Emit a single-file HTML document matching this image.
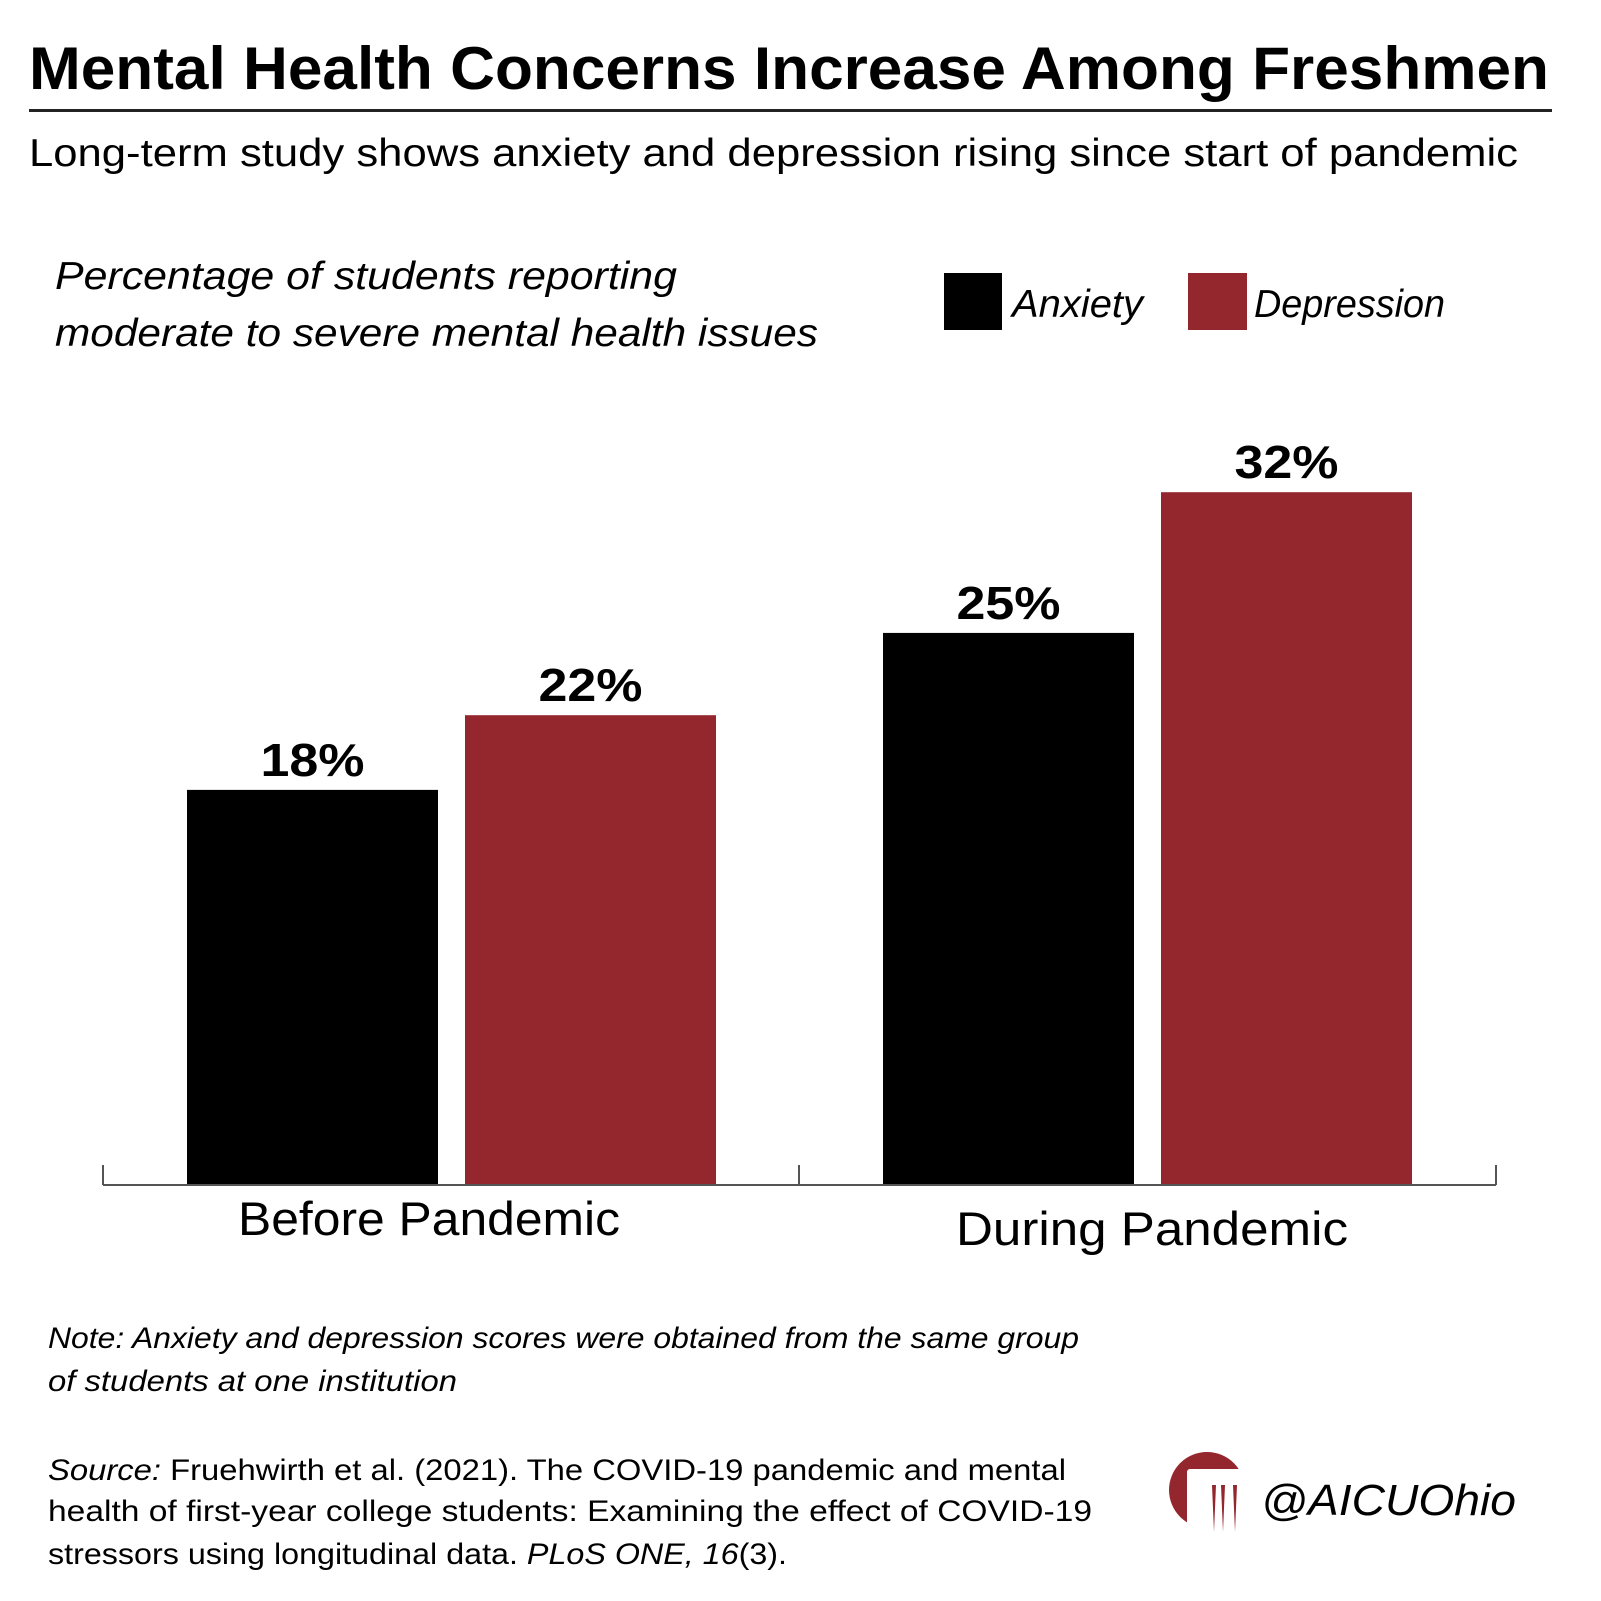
<!DOCTYPE html>
<html><head><meta charset="utf-8"><style>
html,body{margin:0;padding:0;background:#fff}
svg{display:block;font-family:"Liberation Sans",sans-serif}
</style></head><body>
<svg id="chart" width="1601" height="1601" viewBox="0 0 1601 1601">
<rect width="1601" height="1601" fill="#fff"/>
<text x="29" y="89" font-size="60" font-weight="bold" textLength="1520" lengthAdjust="spacingAndGlyphs">Mental Health Concerns Increase Among Freshmen</text>
<rect x="29" y="109" width="1523" height="3" fill="#222"/>
<text x="29" y="166" font-size="39" textLength="1489" lengthAdjust="spacingAndGlyphs">Long-term study shows anxiety and depression rising since start of pandemic</text>
<text font-size="39" font-style="italic"><tspan x="55" y="289" textLength="622" lengthAdjust="spacingAndGlyphs">Percentage of students reporting</tspan><tspan x="55" y="346" textLength="763" lengthAdjust="spacingAndGlyphs">moderate to severe mental health issues</tspan></text>
<g>
<rect x="944" y="273" width="58" height="57" fill="#000"/>
<text x="1012" y="317" font-size="39" font-style="italic" textLength="131" lengthAdjust="spacingAndGlyphs">Anxiety</text>
<rect x="1188" y="273" width="59" height="57" fill="#94262d"/>
<text x="1254" y="317" font-size="39" font-style="italic" textLength="191" lengthAdjust="spacingAndGlyphs">Depression</text>
</g>
<g id="plot"></g>
<text font-size="30" font-style="italic"><tspan x="48" y="1348" textLength="1031" lengthAdjust="spacingAndGlyphs">Note: Anxiety and depression scores were obtained from the same group</tspan><tspan x="48" y="1391" textLength="409" lengthAdjust="spacingAndGlyphs">of students at one institution</tspan></text>
<text font-size="30"><tspan x="48" y="1480" textLength="1018" lengthAdjust="spacingAndGlyphs"><tspan font-style="italic">Source:</tspan> Fruehwirth et al. (2021). The COVID-19 pandemic and mental</tspan><tspan x="48" y="1521" textLength="1044" lengthAdjust="spacingAndGlyphs">health of first-year college students: Examining the effect of COVID-19</tspan><tspan x="48" y="1564" textLength="739" lengthAdjust="spacingAndGlyphs">stressors using longitudinal data. <tspan font-style="italic">PLoS ONE, 16</tspan>(3).</tspan></text>
<g>
<circle cx="1207" cy="1490" r="38" fill="#94262d"/>
<rect x="1187" y="1469" width="60" height="75" rx="3" fill="#fff"/>
<path d="M1212 1485 h4 l-2 47 z M1221 1485 h4 l-2 47 z M1233 1485 h4 l-2 47 z" fill="#94262d"/>
<path d="M1203 1482 h44 v-13 h-44 z" fill="#fff"/>
</g>
<text x="1261" y="1515" font-size="44" font-style="italic" textLength="255" lengthAdjust="spacingAndGlyphs">@AICUOhio</text>
</svg>
<script>
const categories = ["Before Pandemic", "During Pandemic"];
const anxiety = [18.25, 25.5];
const depression = [21.7, 32];
const valueLabels = [["18%", "22%"], ["25%", "32%"]];

const NS = "http://www.w3.org/2000/svg";
const plot = document.getElementById("plot");
const baseY = 1185, pxPer = 21.65;
function yScale(v){ return baseY - v * pxPer; }
const groupX = [187, 883], barW = 251, gap = 27;
function xBar(g, s){ return groupX[g] + s * (barW + gap); }
const catCenters = [429, 1152], catY = [1235, 1245], catLen = [382, 392];
function mk(tag, attrs){ const e = document.createElementNS(NS, tag); for (const k in attrs) e.setAttribute(k, attrs[k]); plot.appendChild(e); return e; }

const series = [anxiety, depression];
const colors = ["#000", "#94262d"];
const snames = ["anxiety", "depression"];
categories.forEach((c, g) => {
  series.forEach((arr, s) => {
    const x = xBar(g, s), y = yScale(arr[g]);
    const r = mk("rect", {x: x, y: y, width: barW, height: baseY - y, fill: colors[s]});
    
    
    const t = mk("text", {x: x + barW / 2, y: y - 14, "font-size": 46, "font-weight": "bold", "text-anchor": "middle", textLength: 104, lengthAdjust: "spacingAndGlyphs"});
    t.textContent = valueLabels[g][s];
    
    
  });
  const ct = mk("text", {x: catCenters[g], y: catY[g], "font-size": 47, "text-anchor": "middle", textLength: catLen[g], lengthAdjust: "spacingAndGlyphs"});
  ct.textContent = c;
  
  
});
const ax = mk("line", {x1: 103, y1: baseY, x2: 1496, y2: baseY, stroke: "#555", "stroke-width": 2});


[103, 799, 1496].forEach(x => {
  const tk = mk("line", {x1: x, y1: baseY, x2: x, y2: baseY - 20, stroke: "#555", "stroke-width": 2});
  
  
});
</script>
</body></html>
